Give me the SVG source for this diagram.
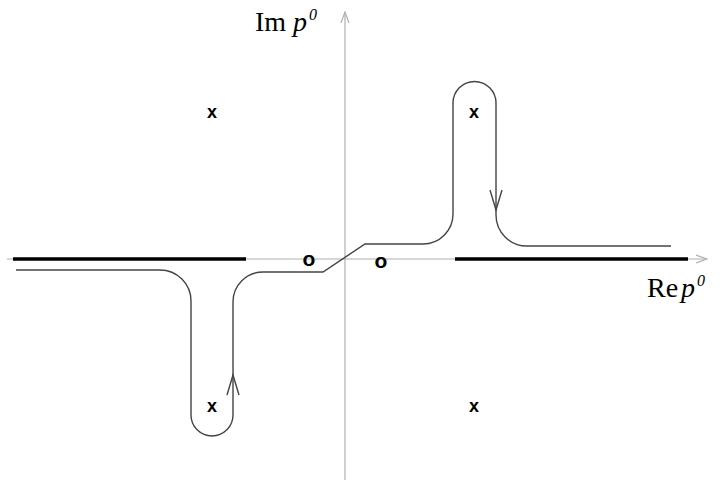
<svg xmlns="http://www.w3.org/2000/svg" width="720" height="480" viewBox="0 0 720 480">
<style>
.axis{stroke:#b0b0b0;stroke-width:1.2;fill:none}
.cut{stroke:#000;stroke-width:3.5;fill:none}
.contour{stroke:#444;stroke-width:1.4;fill:none}
.pole{font-family:"Liberation Sans",Arial,sans-serif;font-weight:bold;font-size:18px;fill:#000;text-anchor:middle}
.zero{font-family:"Liberation Sans",Arial,sans-serif;font-weight:bold;font-size:21px;fill:#000;text-anchor:middle}
.lbl{font-family:"Liberation Serif","Times New Roman",serif;font-size:28px;fill:#000}
</style>
<defs>
<marker id="ah" markerWidth="12" markerHeight="10" refX="11" refY="5" orient="auto" markerUnits="userSpaceOnUse">
<path d="M0,1 L11,5 L0,9" fill="none" stroke="#b0b0b0" stroke-width="1.2"/>
</marker>
</defs>
<g id="axes">
<line class="axis" x1="7" y1="259" x2="707" y2="259" marker-end="url(#ah)"/>
<line class="axis" x1="345" y1="480" x2="345" y2="12" marker-end="url(#ah)"/>
</g>
<g id="cuts">
<line class="cut" x1="13" y1="259" x2="246" y2="259"/>
<line class="cut" x1="455" y1="259" x2="688" y2="259"/>
</g>
<g id="connectors">
<path class="contour" d="M16,270 H160 A31,31 0 0 1 191,301 V415 A21,21 0 0 0 233,415 V302 A30,30 0 0 1 263,272 H323 L365,244 H423 A30,30 0 0 0 453,214 V103 A21.5,21.5 0 0 1 496,103 V215 A31,31 0 0 0 527,246 H671"/>
<path class="contour" d="M227,395 L233,375 L239,395"/>
<path class="contour" d="M490,190 L496,210 L502,190"/>
</g>
<g id="poles">
<text class="pole" x="212" y="118">x</text>
<text class="pole" x="474" y="118">x</text>
<text class="pole" x="212" y="412">x</text>
<text class="pole" x="474" y="412">x</text>
</g>
<g id="zeros">
<text class="zero" x="309" y="266">o</text>
<text class="zero" x="381" y="268">o</text>
</g>
<g id="labels">
<text class="lbl" x="255" y="31">Im <tspan font-style="italic">p</tspan><tspan font-style="italic" font-size="16" dx="2" dy="-11">0</tspan></text>
<text class="lbl" x="647" y="297">Re<tspan font-style="italic" dx="3">p</tspan><tspan font-style="italic" font-size="16" dx="2" dy="-11">0</tspan></text>
</g>
</svg>
